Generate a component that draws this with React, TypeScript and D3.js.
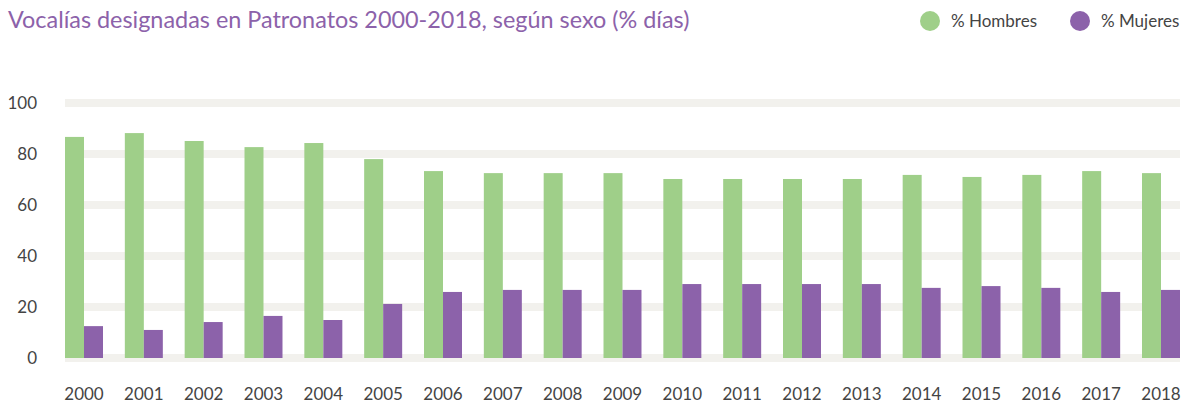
import React from "react";
import { scaleBand, scaleLinear } from "d3";

const years = ["2000", "2001", "2002", "2003", "2004", "2005", "2006", "2007", "2008", "2009", "2010", "2011", "2012", "2013", "2014", "2015", "2016", "2017", "2018"];
const hombres = [86.7, 88.2, 85.1, 82.7, 84.3, 78.0, 73.3, 72.5, 72.5, 72.5, 70.2, 70.2, 70.2, 70.2, 71.8, 71.0, 71.8, 73.3, 72.5];
const mujeres = [12.5, 11.0, 14.1, 16.5, 14.9, 21.2, 25.9, 26.7, 26.7, 26.7, 29.0, 29.0, 29.0, 29.0, 27.5, 28.2, 27.5, 25.9, 26.7];
const yTicks = [0, 20, 40, 60, 80, 100];
const seriesNames = ["% Hombres", "% Mujeres"];

const GREEN = "#9fcf89";
const PURPLE = "#8c62aa";
const FONT = "Lato, 'Open Sans', sans-serif";

export default function App() {
  const width = 1182;
  const height = 404;

  const x = scaleBand().domain(years).range([65, 1180]).paddingInner(0.365).paddingOuter(0);
  const y = scaleLinear().domain([0, 100]).range([358, 103]);
  const half = x.bandwidth() / 2;

  return (
    <svg width={width} height={height} style={{ position: "absolute", left: 0, top: 0, fontFamily: FONT }}>
      {/* title */}
      <text x={8} y={28} fontSize={23.4} fill={PURPLE}>
        Vocalías designadas en Patronatos 2000-2018, según sexo (% días)
      </text>

      {/* legend */}
      {seriesNames.map((name, i) => (
        <g key={name} transform={`translate(${930 + i * 150},21)`}>
          <circle r={10} fill={i === 0 ? GREEN : PURPLE} />
          <text x={21} y={6} fontSize={17} fill="#444">{name}</text>
        </g>
      ))}

      {/* gridline bands */}
      {yTicks.map((t) => (
        <rect key={t} x={65} width={1115} y={y(t) - 4} height={8} fill="#f2f1ed" />
      ))}

      {/* y labels */}
      {yTicks.map((t) => (
        <text key={t} x={37} y={y(t)} dy="0.35em" textAnchor="end" fontSize={17} fill="#444">
          {t}
        </text>
      ))}

      {/* bars */}
      {years.map((yr, i) => (
        <g key={yr}>
          <rect x={x(yr)!} width={half} y={y(hombres[i])} height={y(0) - y(hombres[i])} fill={GREEN} />
          <rect x={x(yr)! + half} width={half} y={y(mujeres[i])} height={y(0) - y(mujeres[i])} fill={PURPLE} />
          <text x={x(yr)! + half} y={400} textAnchor="middle" fontSize={17} fill="#444">
            {yr}
          </text>
        </g>
      ))}
    </svg>
  );
}
